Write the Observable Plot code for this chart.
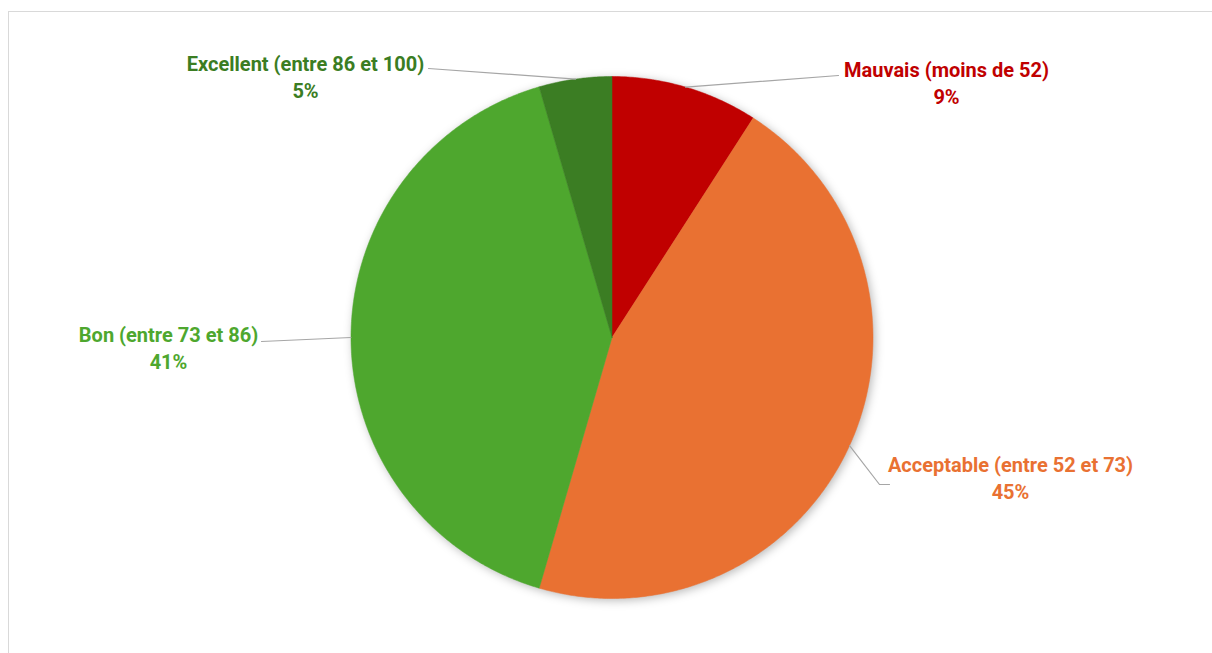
<!DOCTYPE html>
<html><head><meta charset="utf-8">
<script src="https://cdn.jsdelivr.net/npm/d3@7"></script>
<script src="https://cdn.jsdelivr.net/npm/@observablehq/plot@0.6"></script>
<style>
html,body{margin:0;padding:0;background:#fff;overflow:hidden;}
#frame{position:absolute;left:8px;top:11px;width:1210px;height:650px;border-top:1px solid #d9d9d9;border-left:1px solid #d9d9d9;}
#chart{position:absolute;left:0;top:0;}
</style></head><body>
<div id="frame"></div>
<div id="chart"></div>
<script>
// ---- data ----
const categories = ["Mauvais (moins de 52)", "Acceptable (entre 52 et 73)", "Bon (entre 73 et 86)", "Excellent (entre 86 et 100)"];
const shares = [9.1, 45.4, 41.0, 4.5];
const colors = ["#C00000", "#E97132", "#4EA72E", "#3B7D23"];

// ---- layout (pixels) ----
const W = 1212, H = 653, CX = 611.5, CY = 337, R = 261;
const FS = 20, LINE = 27;
// leader line: angle on pie edge (deg clockwise from top, null = slice middle), then bend points
const leaderEdgeAngle = [null, null, null, 352];
const leaderPts = [[[838, 75]], [[879, 484], [889, 484]], [[261, 341]], [[428, 68]]];
const labelPos = [[946, 76], [1010, 471], [168, 341], [305, 70]]; // centre x, first-line baseline

// ---- geometry ----
const total = d3.sum(shares);
const px2x = p => (p - CX) / R, py2y = p => (CY - p) / R;
const slices = [];
const leaders = [];
const labels = [];
let acc = 0;
categories.forEach((c, i) => {
  const a0 = acc / total * 360, a1 = (acc + shares[i]) / total * 360;
  acc += shares[i];
  slices.push({cat: c, x: 0, y: 0});
  const n = Math.max(2, Math.ceil((a1 - a0) * 2));
  for (let k = 0; k <= n; k++) {
    const a = (a0 + (a1 - a0) * k / n) * Math.PI / 180;
    slices.push({cat: c, x: Math.sin(a), y: Math.cos(a)});
  }
  slices.push({cat: c, x: 0, y: 0});
  const am = (leaderEdgeAngle[i] ?? (a0 + a1) / 2) * Math.PI / 180;
  leaders.push({cat: c, x: Math.sin(am), y: Math.cos(am)});
  leaderPts[i].forEach(([px, py]) => leaders.push({cat: c, x: px2x(px), y: py2y(py)}));
  const [lx, ly] = labelPos[i];
  labels.push({cat: c, text: c, x: px2x(lx), y: py2y(ly - 0.32 * FS)});
  labels.push({cat: c, text: Math.round(shares[i] / total * 100) + "%", x: px2x(lx), y: py2y(ly + LINE - 0.32 * FS)});
});

const chart = Plot.plot({
  width: W, height: H,
  margin: 0,
  style: {background: "transparent", fontFamily: "Roboto, 'Noto Sans', sans-serif"},
  x: {domain: [px2x(0), px2x(W)], range: [0, W], axis: null},
  y: {domain: [py2y(H), py2y(0)], range: [H, 0], axis: null},
  color: {domain: categories, range: colors},
  marks: [
    Plot.dot([{x: 0.008, y: -0.008}], {x: "x", y: "y", r: R, fill: "#000", fillOpacity: 0.28, stroke: null, className: "pie-shadow"}),
    Plot.line(slices, {x: "x", y: "y", z: "cat", fill: "cat", stroke: "cat", strokeWidth: 0.5, curve: "linear"}),
    Plot.line(leaders, {x: "x", y: "y", z: "cat", stroke: "#a6a6a6", strokeWidth: 1.2}),
    Plot.text(labels, {x: "x", y: "y", text: "text", fill: "cat", fontSize: FS, fontWeight: "bold", textAnchor: "middle", lineAnchor: "middle"})
  ]
});
document.getElementById("chart").appendChild(chart);
const sh = chart.querySelector(".pie-shadow circle");
if (sh) sh.style.filter = "blur(5px)";
</script>
</body></html>
